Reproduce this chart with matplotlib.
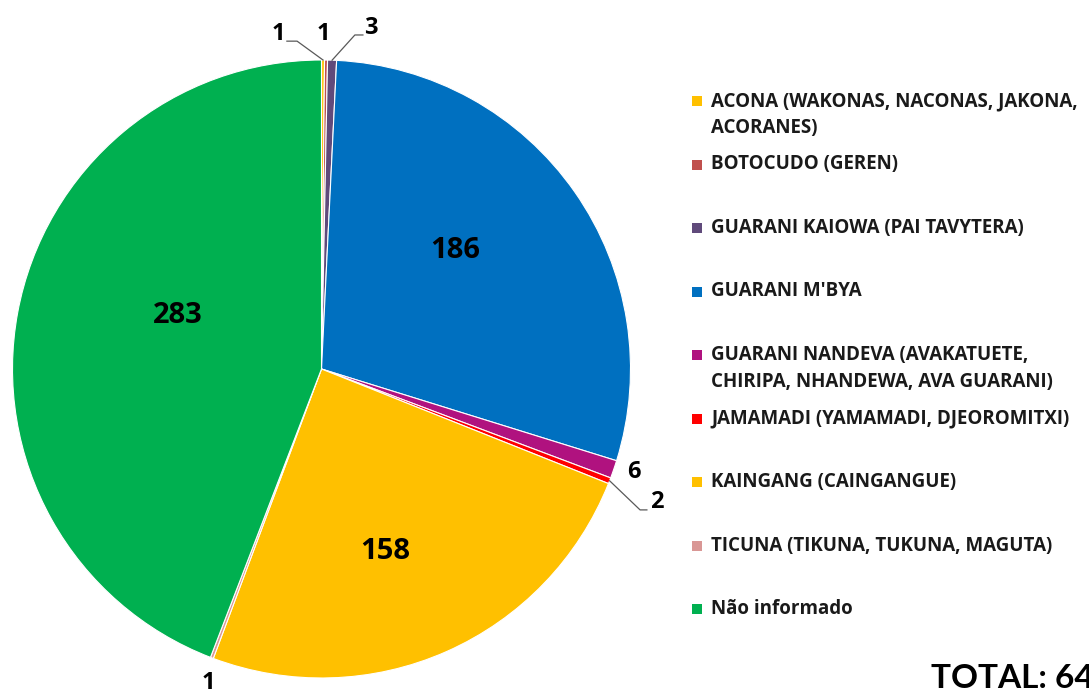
"""
Etnias declaradas - pie chart with a hand-placed legend (Excel style).
Saves out.png (1089 x 692).
"""

import numpy as np
import matplotlib
matplotlib.use("Agg")
import matplotlib.pyplot as plt
from matplotlib.patches import Rectangle

# ── data ───────────────────────────────────────────────────────────────────────
ETNIAS = [
    "ACONA (WAKONAS, NACONAS, JAKONA,\nACORANES)",
    "BOTOCUDO (GEREN)",
    "GUARANI KAIOWA (PAI TAVYTERA)",
    "GUARANI M'BYA",
    "GUARANI NANDEVA (AVAKATUETE,\nCHIRIPA, NHANDEWA, AVA GUARANI)",
    "JAMAMADI (YAMAMADI, DJEOROMITXI)",
    "KAINGANG (CAINGANGUE)",
    "TICUNA (TIKUNA, TUKUNA, MAGUTA)",
    "Não informado",
]
CONTAGEM = [1, 1, 3, 186, 6, 2, 158, 1, 283]
TOTAL_LABEL = "TOTAL: 641"

# ── style ──────────────────────────────────────────────────────────────────────
CORES = ["#FFC000", "#C0504D", "#604A7B", "#0070C0", "#B0127F",
         "#FF0000", "#FFC000", "#D99795", "#00B050"]
FONT = "Open Sans"

# label placement: big wedges get an inside label, small wedges an outside
# label (some with a leader line: wedge edge -> elbow -> end)
LABEL_POS = {
    0: (-0.140, 1.085),
    1: (0.005, 1.085),
    2: (0.160, 1.102),
    3: (0.432, 0.385),
    4: (1.012, -0.333),
    5: (1.085, -0.430),
    6: (0.205, -0.592),
    7: (-0.367, -1.016),
    8: (-0.464, 0.172),
}
INSIDE = {3, 6, 8}
LEADERS = {
    0: [(-0.079, 1.061), (-0.112, 1.061)],
    2: [(0.108, 1.081), (0.134, 1.081)],
    5: [(1.031, -0.456), (1.053, -0.456)],
}


def main() -> None:
    fig = plt.figure(figsize=(10.89, 6.92), dpi=100)
    W, H = 1089, 692

    # pie axes: centre (321, 369) px, radius 309 px
    cx, cy, r = 321.5, 369, 309
    ax = fig.add_axes([(cx - r) / W, (H - cy - r) / H, 2 * r / W, 2 * r / H])
    wedges, _ = ax.pie(
        CONTAGEM, colors=CORES, startangle=90, counterclock=False,
        radius=1.0, wedgeprops=dict(edgecolor="white", linewidth=0.8),
    )
    ax.set_xlim(-1, 1)
    ax.set_ylim(-1, 1)
    ax.set_aspect("equal")
    ax.axis("off")

    for i, w in enumerate(wedges):
        x, y = LABEL_POS[i]
        ax.text(x, y, str(CONTAGEM[i]), ha="center", va="center",
                fontsize=21 if i in INSIDE else 17, fontweight="bold",
                family=FONT, color="black", clip_on=False)
        if i in LEADERS:
            ang = np.deg2rad((w.theta1 + w.theta2) / 2)
            pts = [(np.cos(ang), np.sin(ang))] + LEADERS[i]
            xs, ys = zip(*pts)
            ax.plot(xs, ys, color="#595959", lw=0.9, clip_on=False)

    # legend (manual, Excel-like spacing)
    y0, pitch, line_h = 101, 63.5, 27
    for i, (nome, cor) in enumerate(zip(ETNIAS, CORES)):
        ypx = y0 + i * pitch
        fig.patches.append(Rectangle(
            (692 / W, (H - ypx - 5) / H), 10 / W, 10 / H,
            transform=fig.transFigure, facecolor=cor, edgecolor="none"))
        for k, linha in enumerate(nome.split("\n")):
            fig.text(711 / W, (H - ypx - k * line_h) / H, linha,
                     ha="left", va="center", fontsize=13.5,
                     fontweight="bold", family=FONT, color="#1a1a1a")

    fig.text(931 / W, (H - 679) / H, TOTAL_LABEL, ha="left", va="center",
             fontsize=24, fontweight="bold", family="Lato", color="black")

    fig.savefig("out.png", dpi=100, facecolor="white")
    plt.close(fig)


if __name__ == "__main__":
    main()
